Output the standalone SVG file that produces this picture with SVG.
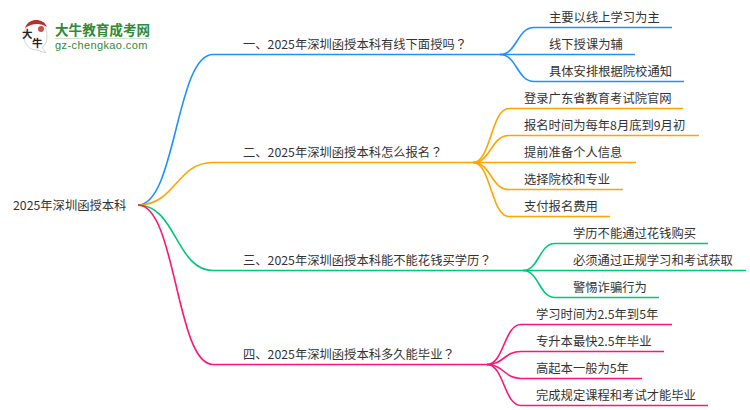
<svg xmlns="http://www.w3.org/2000/svg" width="750" height="410" viewBox="0 0 750 410">
<style>
text{font-family:"Noto Sans CJK SC","Liberation Sans",sans-serif;fill:#333;font-size:12.3px}
.q{font-family:"Noto Sans CJK TC","Liberation Sans",sans-serif}
.c{fill:none;stroke-width:1.6}
.b{stroke:#1E90FF}.o{stroke:#FFA500}.g{stroke:#00C878}.p{stroke:#FF1478}
</style>
<rect width="750" height="410" fill="#fff"/>
<g id="logo">
<path d="M24 36C24 27 29 21 36 21C43 21 47 28 47 36C47 42 45 46 42 47L46 53L37 50C29 50 24 44 24 36Z" fill="#fff" stroke="#ccc" stroke-width=".8"/>
<path d="M25 28C27 22 32 20 36 20C41 20 45 22 47 27C41 23 32 23 25 28Z" fill="#b5302a"/>
<circle cx="41" cy="29" r="3" fill="#c9504a"/>
<text x="22" y="38" style="font-size:10.5px;fill:#222;font-weight:700">大</text>
<text x="32" y="47" style="font-size:10.5px;fill:#222;font-weight:700">牛</text>
<text x="55" y="35" style="font-size:13.6px;fill:#2f8a3a;font-weight:700">大牛教育成考网</text>
<line x1="55" y1="38.5" x2="150" y2="38.5" stroke="#cfe3d0"/>
<text x="55" y="49" style="font-size:11px;fill:#2f8a3a;font-family:'Liberation Sans',sans-serif;letter-spacing:.4px">gz-chengkao.com</text>
</g>
<g id="connectors">
<path class="c b" d="M138 205C176 205 176 54.500 213 54.500H500"/>
<path class="c o" d="M138 205C176 205 176 162.500 213 162.500H473"/>
<path class="c g" d="M138 205C176 205 176 270.500 213 270.500H523"/>
<path class="c p" d="M138 205C176 205 176 364.500 213 364.500H487"/>
<path class="c b" d="M500 54.500C517 54.500 517 27.500 534 27.500H672"/>
<path class="c b" d="M500 54.500C517 54.500 517 54.500 534 54.500H635"/>
<path class="c b" d="M500 54.500C517 54.500 517 81.500 534 81.500H684"/>
<path class="c o" d="M473 162.500C491 162.500 491 108.500 509 108.500H683"/>
<path class="c o" d="M473 162.500C491 162.500 491 135.500 509 135.500H699"/>
<path class="c o" d="M473 162.500C491 162.500 491 162.500 509 162.500H636"/>
<path class="c o" d="M473 162.500C491 162.500 491 189.500 509 189.500H623"/>
<path class="c o" d="M473 162.500C491 162.500 491 216.500 509 216.500H610"/>
<path class="c g" d="M523 270.500C539 270.500 539 243.500 555 243.500H708"/>
<path class="c g" d="M523 270.500C539 270.500 539 270.500 555 270.500H746"/>
<path class="c g" d="M523 270.500C539 270.500 539 297.500 555 297.500H659"/>
<path class="c p" d="M487 364.500C504 364.500 504 324.500 521 324.500H672"/>
<path class="c p" d="M487 364.500C504 364.500 504 351.500 521 351.500H664"/>
<path class="c p" d="M487 364.500C504 364.500 504 378.500 521 378.500H642"/>
<path class="c p" d="M487 364.500C504 364.500 504 405.500 521 405.500H708"/>
</g>
<g id="root"><text x="13" y="210">2025年深圳函授本科</text></g>
<g id="q1"><text x="243" y="49">一、2025年深圳函授本科有线下面授吗<tspan class="q">？</tspan></text></g>
<g id="q2"><text x="243" y="157">二、2025年深圳函授本科怎么报名<tspan class="q">？</tspan></text></g>
<g id="q3"><text x="243" y="265">三、2025年深圳函授本科能不能花钱买学历<tspan class="q">？</tspan></text></g>
<g id="q4"><text x="243" y="359">四、2025年深圳函授本科多久能毕业<tspan class="q">？</tspan></text></g>
<g id="a1"><text x="549" y="22">主要以线上学习为主</text></g>
<g id="a2"><text x="549" y="49">线下授课为辅</text></g>
<g id="a3"><text x="549" y="76">具体安排根据院校通知</text></g>
<g id="b1"><text x="524" y="103">登录广东省教育考试院官网</text></g>
<g id="b2"><text x="524" y="130">报名时间为每年8月底到9月初</text></g>
<g id="b3"><text x="524" y="157">提前准备个人信息</text></g>
<g id="b4"><text x="524" y="184">选择院校和专业</text></g>
<g id="b5"><text x="524" y="211">支付报名费用</text></g>
<g id="c1"><text x="573" y="238">学历不能通过花钱购买</text></g>
<g id="c2"><text x="573" y="265">必须通过正规学习和考试获取</text></g>
<g id="c3"><text x="573" y="292">警惕诈骗行为</text></g>
<g id="d1"><text x="536" y="319">学习时间为2.5年到5年</text></g>
<g id="d2"><text x="536" y="346">专升本最快2.5年毕业</text></g>
<g id="d3"><text x="536" y="373">高起本一般为5年</text></g>
<g id="d4"><text x="536" y="400">完成规定课程和考试才能毕业</text></g>
</svg>
